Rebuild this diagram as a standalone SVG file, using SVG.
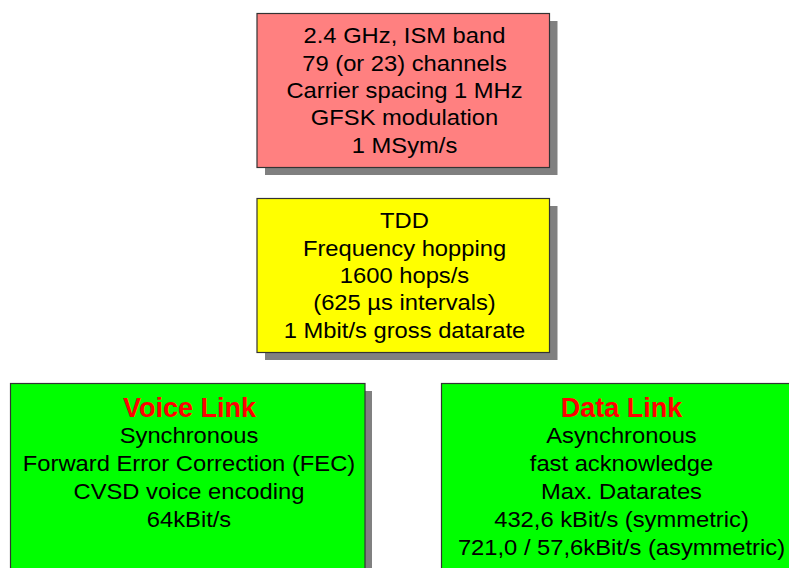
<svg xmlns="http://www.w3.org/2000/svg" width="789" height="568" viewBox="0 0 789 568">
<style>
.shadow{fill:#808080;}
.box{stroke:#333333;stroke-width:1.2;}
.t{font-family:"Liberation Sans",Arial,sans-serif;font-size:22px;fill:#000;text-anchor:middle;}
.h{font-family:"Liberation Sans",Arial,sans-serif;font-size:27px;font-weight:bold;fill:#FF0000;text-anchor:middle;}
</style>
<rect width="789" height="568" fill="#ffffff"/>
<g id="node-phy">
<rect class="shadow" x="265" y="21" width="292.5" height="154"/>
<rect class="box" x="257" y="13.5" width="292.5" height="154" fill="#FF8080"/>
<g transform="translate(404.5 0) scale(1.08 1)">
<text class="t" x="0" y="43.5">2.4 GHz, ISM band</text>
<text class="t" x="0" y="70.8">79 (or 23) channels</text>
<text class="t" x="0" y="98.1">Carrier spacing 1 MHz</text>
<text class="t" x="0" y="125.4">GFSK modulation</text>
<text class="t" x="0" y="152.7">1 MSym/s</text>
</g>
</g>
<g id="node-tdd">
<rect class="shadow" x="265" y="206" width="292.5" height="154"/>
<rect class="box" x="257" y="198.5" width="292.5" height="154" fill="#FFFF00"/>
<g transform="translate(404.5 0) scale(1.08 1)">
<text class="t" x="0" y="228.5">TDD</text>
<text class="t" x="0" y="255.8">Frequency hopping</text>
<text class="t" x="0" y="283.1">1600 hops/s</text>
<text class="t" x="0" y="310.4">(625 µs intervals)</text>
<text class="t" x="0" y="337.7">1 Mbit/s gross datarate</text>
</g>
</g>
<g id="node-voice">
<rect class="shadow" x="18" y="391" width="354" height="190"/>
<rect class="box" x="10.5" y="383.5" width="354.5" height="190" fill="#00FF00"/>
<text class="h" x="189.5" y="416.5">Voice Link</text>
<g transform="translate(189 0) scale(1.08 1)">
<text class="t" x="0" y="443.3">Synchronous</text>
<text class="t" x="0" y="471.2">Forward Error Correction (FEC)</text>
<text class="t" x="0" y="499.1">CVSD voice encoding</text>
<text class="t" x="0" y="527">64kBit/s</text>
</g>
</g>
<g id="node-data">
<rect class="shadow" x="449" y="391" width="360" height="190"/>
<rect class="box" x="441.5" y="383.5" width="360" height="190" fill="#00FF00"/>
<text class="h" x="621.5" y="416.5">Data Link</text>
<g transform="translate(621.5 0) scale(1.08 1)">
<text class="t" x="0" y="443.3">Asynchronous</text>
<text class="t" x="0" y="471.2">fast acknowledge</text>
<text class="t" x="0" y="499.1">Max. Datarates</text>
<text class="t" x="0" y="527">432,6 kBit/s (symmetric)</text>
<text class="t" x="0" y="555">721,0 / 57,6kBit/s (asymmetric)</text>
</g>
</g>
<g id="connectors"></g>
</svg>
